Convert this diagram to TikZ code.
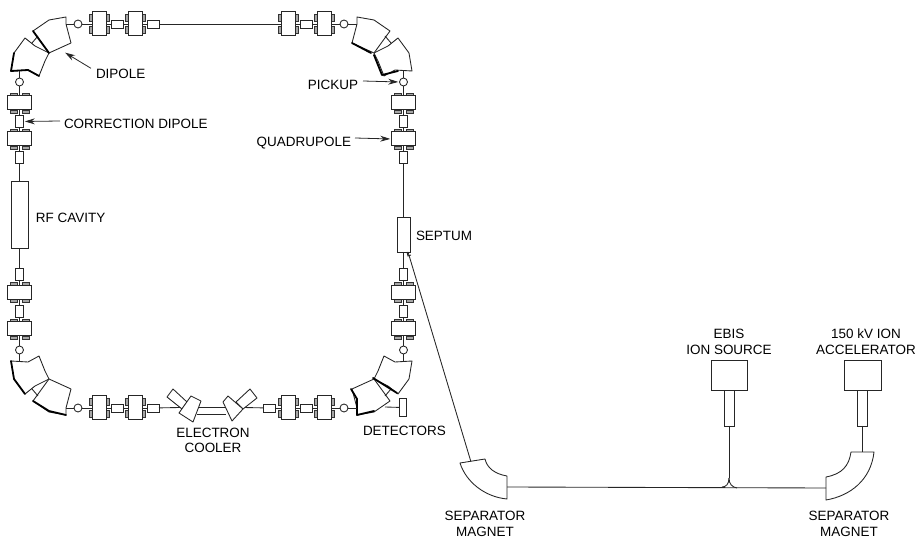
\documentclass[tikz,border=0pt]{standalone}
\usepackage{fontspec}
\setmainfont{Liberation Sans}
\usetikzlibrary{arrows.meta}
\tikzset{
  beam/.style={line width=0.65pt,black!85},
  body/.style={draw=black!85,line width=0.75pt,fill=white,inner sep=0pt,outer sep=0pt},
  quadh/.style={body,minimum width=10.5pt,minimum height=18pt},
  quadv/.style={body,minimum width=18pt,minimum height=10.5pt},
  corrh/.style={body,minimum width=9pt,minimum height=6pt,line width=0.6pt},
  corrv/.style={body,minimum width=6pt,minimum height=9pt,line width=0.6pt},
  pickupring/.style={circle,draw=black!85,line width=0.65pt,fill=white,inner sep=0pt,outer sep=0pt,minimum size=6pt},
  coil/.style={draw=black!80,line width=0.35pt,fill=black!35},
  magnet/.style={draw=black!85,line width=0.65pt,line join=round,fill=white},
  heavy/.style={draw=black,line width=1.35pt,line join=round,line cap=round},
  lead/.style={line width=0.6pt,black!85,-{Stealth[length=7.5pt,width=4.5pt,inset=2.5pt]},shorten >=1pt},
  lbl/.style={inner sep=0pt,outer sep=0pt,text height=7pt,text depth=0pt,yshift=-0.75pt,font=\fontsize{10.1}{12}\selectfont}
}
\newcommand{\qh}[3]{%
  \begin{scope}[shift={(#2,#3)}]
    \foreach \sx in {-10,7}{\foreach \sy in {-9.5,2.5}{\draw[coil] (\sx,\sy) rectangle ++(3,7);}}
    \node[quadh] (#1) at (0,0) {};
  \end{scope}}
\newcommand{\qv}[3]{%
  \begin{scope}[shift={(#2,#3)}]
    \foreach \sy in {-10,7}{\foreach \sx in {-9.5,2.5}{\draw[coil] (\sx,\sy) rectangle ++(7,3);}}
    \node[quadv] (#1) at (0,0) {};
  \end{scope}}
\newcommand{\dipolepair}[1]{%
  \draw[magnet] (25,38) -- (14,53) -- (11,71) -- (28,70) -- (39,76) -- (45,61) -- (49,53) -- (35,46) -- cycle;
  \draw[magnet] (33,31) -- (49,53) -- (71,43) -- (66,24) -- (66,17) -- (49,20) -- cycle;
  \draw[beam] (32,43) -- (38,36);
  \coordinate (#1h) at (66,24);
  \coordinate (#1v) at (19.5,71);}
\begin{document}
\begin{tikzpicture}[x=0.75pt,y=-0.75pt]
\useasboundingbox (0,0) rectangle (915,538);

% Top-left dipole
\begin{scope}
  \dipolepair{tl}
  \draw[heavy] (33,31) -- (49,53);
  \draw[heavy] (14,53) -- (11,71) -- (28,70) -- (39,76);
\end{scope}
% Top-right dipole
\begin{scope}[shift={(423,0)},xscale=-1]
  \dipolepair{tr}
  \draw[heavy] (71,43) -- (52,53);
  \draw[heavy] (49,55) -- (41,75) -- (25,71);
\end{scope}
% Bottom-left dipole
\begin{scope}[shift={(0,432)},yscale=-1]
  \dipolepair{bl}
  \draw[heavy] (11,71) -- (14,53) -- (25,38);
  \draw[heavy] (33,31) -- (49,21) -- (66,17);
\end{scope}
% Bottom-right dipole
\begin{scope}[shift={(423,432)},xscale=-1,yscale=-1]
  \dipolepair{br}
  \draw[heavy] (50,54) -- (26,39);
  \draw[heavy] (72,43) -- (66,33) -- (66,17) -- (49,21);
\end{scope}

% Top straight
\node[pickupring] (p1) at (78,24) {};
\qh{q1}{99}{24}
\node[corrh] (c1) at (117,24) {};
\qh{q2}{135}{24}
\node[corrh] (c2) at (153,24) {};
\qh{q3}{288}{24}
\node[corrh] (c3) at (306,24) {};
\qh{q4}{324}{24}
\node[pickupring] (p2) at (344,24) {};
\draw[beam] (tlh) -- (p1) (p1) -- (q1) (q1) -- (c1) (c1) -- (q2) (q2) -- (c2) (c2) -- (q3) (q3) -- (c3) (c3) -- (q4) (q4) -- (p2) (p2) -- (trh);

% Left straight
\node[pickupring] (p3) at (19.5,82) {};
\qv{q5}{19.5}{103}
\node[corrv] (c4) at (19.5,121.5) {};
\qv{q6}{19.5}{139}
\node[corrv] (c5) at (19.5,157.5) {};
\node[body,line width=0.65pt,minimum width=12.75pt,minimum height=50pt] (rf) at (19.5,215) {};
\node[corrv] (c6) at (19.5,274) {};
\qv{q7}{19.5}{292.5}
\node[corrv] (c7) at (19.5,311) {};
\qv{q8}{19.5}{329}
\node[pickupring] (p4) at (19.5,350) {};
\draw[beam] (tlv) -- (p3) (p3) -- (q5) (q5) -- (c4) (c4) -- (q6) (q6) -- (c5) (c5) -- (rf) (rf) -- (c6) (c6) -- (q7) (q7) -- (c7) (c7) -- (q8) (q8) -- (p4) (p4) -- (blv);

% Right straight
\node[pickupring] (p5) at (403.5,82) {};
\qv{q9}{403.5}{103}
\node[corrv] (c8) at (403.5,121.5) {};
\qv{q10}{403.5}{139}
\node[corrv] (c9) at (403.5,157.5) {};
\node[body,line width=0.6pt,minimum width=9.75pt,minimum height=26.25pt] (sept) at (403.5,234.5) {};
\node[corrv] (c10) at (403.5,274) {};
\qv{q11}{403.5}{292.5}
\node[corrv] (c11) at (403.5,311) {};
\qv{q12}{403.5}{329}
\node[pickupring] (p6) at (403.5,350) {};
\draw[beam] (trv) -- (p5) (p5) -- (q9) (q9) -- (c8) (c8) -- (q10) (q10) -- (c9) (c9) -- (sept) (sept) -- (c10) (c10) -- (q11) (q11) -- (c11) (c11) -- (q12) (q12) -- (p6) (p6) -- (brv);
\draw[beam] (407,252) -- (408,256) -- (411,255);

% Bottom straight
\node[pickupring] (p7) at (78,408) {};
\qh{q13}{99}{408}
\node[corrh] (c12) at (117,408) {};
\qh{q14}{135}{408}
\node[corrh] (c13) at (153,408) {};
\node[corrh] (c14) at (269.5,408) {};
\qh{q15}{288.5}{408}
\node[corrh] (c15) at (306.5,408) {};
\qh{q16}{324.5}{408}
\node[pickupring] (p8) at (344,408) {};
\draw[beam] (blh) -- (p7) (p7) -- (q13) (q13) -- (c12) (c12) -- (q14) (q14) -- (c13);
\draw[beam] (c14) -- (q15) (q15) -- (c15) (c15) -- (q16) (q16) -- (p8) (p8) -- (brh);

% Electron cooler
\coordinate (coolL) at (180,407.5);
\coordinate (coolR) at (243,407.5);
\draw[beam] (c13) -- (coolL) (coolR) -- (c14);
\draw[beam] (197,407) -- (226,407) (197,414) -- (226,414);
\draw[magnet] (167,397) -- (173,389) -- (187,402) -- (182,409) -- cycle;
\draw[magnet] (191,396) -- (201,401) -- (193,422) -- (179,413) -- cycle;
\draw[magnet] (243,409) -- (236,402) -- (250,389) -- (257,398) -- cycle;
\draw[magnet] (223,402) -- (228,396) -- (243,409) -- (232,421) -- cycle;

% Detectors
\coordinate (detin) at (385,407);
\node[body,line width=0.65pt,minimum width=5.25pt,minimum height=14pt] (det) at (402.5,407.5) {};
\draw[beam] (detin) -- (det);

% Transfer line and separators
\coordinate (septout) at (408,252);
\coordinate (magLin) at (471,462);
\coordinate (magLout) at (507,487);
\coordinate (magRin) at (826,488);
\coordinate (magRup) at (862.5,452);
\coordinate (fork) at (729,478);
\coordinate (forkL) at (722,487);
\coordinate (forkR) at (737,488);
\draw[beam] (septout) -- (magLin);
\draw[magnet] (460,463) .. controls (466,482) and (485,497) .. (507,499) -- (507,476) .. controls (495,474) and (487,468) .. (485,459) -- cycle;
\draw[magnet] (851,452) -- (874,452) .. controls (871,480) and (850,496) .. (826,500) -- (826,477) .. controls (842,474) and (849,466) .. (851,452) -- cycle;
\draw[beam] (magLout) -- (magRin);

% Sources
\node[body,line width=0.65pt,minimum width=27pt,minimum height=22pt] (ebis) at (729,375.5) {};
\node[body,line width=0.65pt,minimum width=7.5pt,minimum height=27pt] (ebist) at (729,408) {};
\node[body,line width=0.65pt,minimum width=27.75pt,minimum height=22pt] (acc) at (862.5,375.5) {};
\node[body,line width=0.65pt,minimum width=7pt,minimum height=27pt] (acct) at (862.5,408) {};
\draw[beam] (ebis) -- (ebist) (acc) -- (acct);
\draw[beam] (ebist) -- (fork) (acct) -- (magRup);
\draw[beam] (fork) .. controls (729,484) and (726,487) .. (forkL);
\draw[beam] (fork) .. controls (729,484) and (732,487) .. (forkR);

% Labels
\node[lbl,anchor=west] (lDip) at (96,73) {DIPOLE};
\node[lbl,anchor=west] (lCor) at (64,123) {CORRECTION DIPOLE};
\node[lbl,anchor=east] (lPick) at (358,84) {PICKUP};
\node[lbl,anchor=east] (lQuad) at (351,141) {QUADRUPOLE};
\node[lbl,anchor=west] (lRf) at (36,217) {RF CAVITY};
\node[lbl,anchor=west] (lSep) at (416,235) {SEPTUM};
\node[lbl,anchor=west] (lDet) at (363,430) {DETECTORS};
\node[lbl] (lEl) at (213,432) {ELECTRON};
\node[lbl] (lCo) at (213,447) {COOLER};
\node[lbl] (lSmL1) at (485,515) {SEPARATOR};
\node[lbl] (lSmL2) at (485,531) {MAGNET};
\node[lbl] (lSmR1) at (849,515) {SEPARATOR};
\node[lbl] (lSmR2) at (849,531) {MAGNET};
\node[lbl] (lEb1) at (729,333) {EBIS};
\node[lbl] (lEb2) at (729,349) {ION SOURCE};
\node[lbl] (lAc1) at (866,333) {150 kV ION};
\node[lbl] (lAc2) at (866,349) {ACCELERATOR};

% Pointers
\coordinate (dipTip) at (64,52);
\draw[lead] ([xshift=-3.75pt,yshift=4.25pt]lDip.west) -- (dipTip);
\draw[lead] ([xshift=-3pt,yshift=2.25pt]lCor.west) -- (c4.east);
\draw[lead] ([xshift=3.75pt,yshift=3pt]lPick.east) -- (p5.west);
\draw[lead] ([xshift=3pt,yshift=3pt]lQuad.east) -- (q10.west);
\end{tikzpicture}
\end{document}
